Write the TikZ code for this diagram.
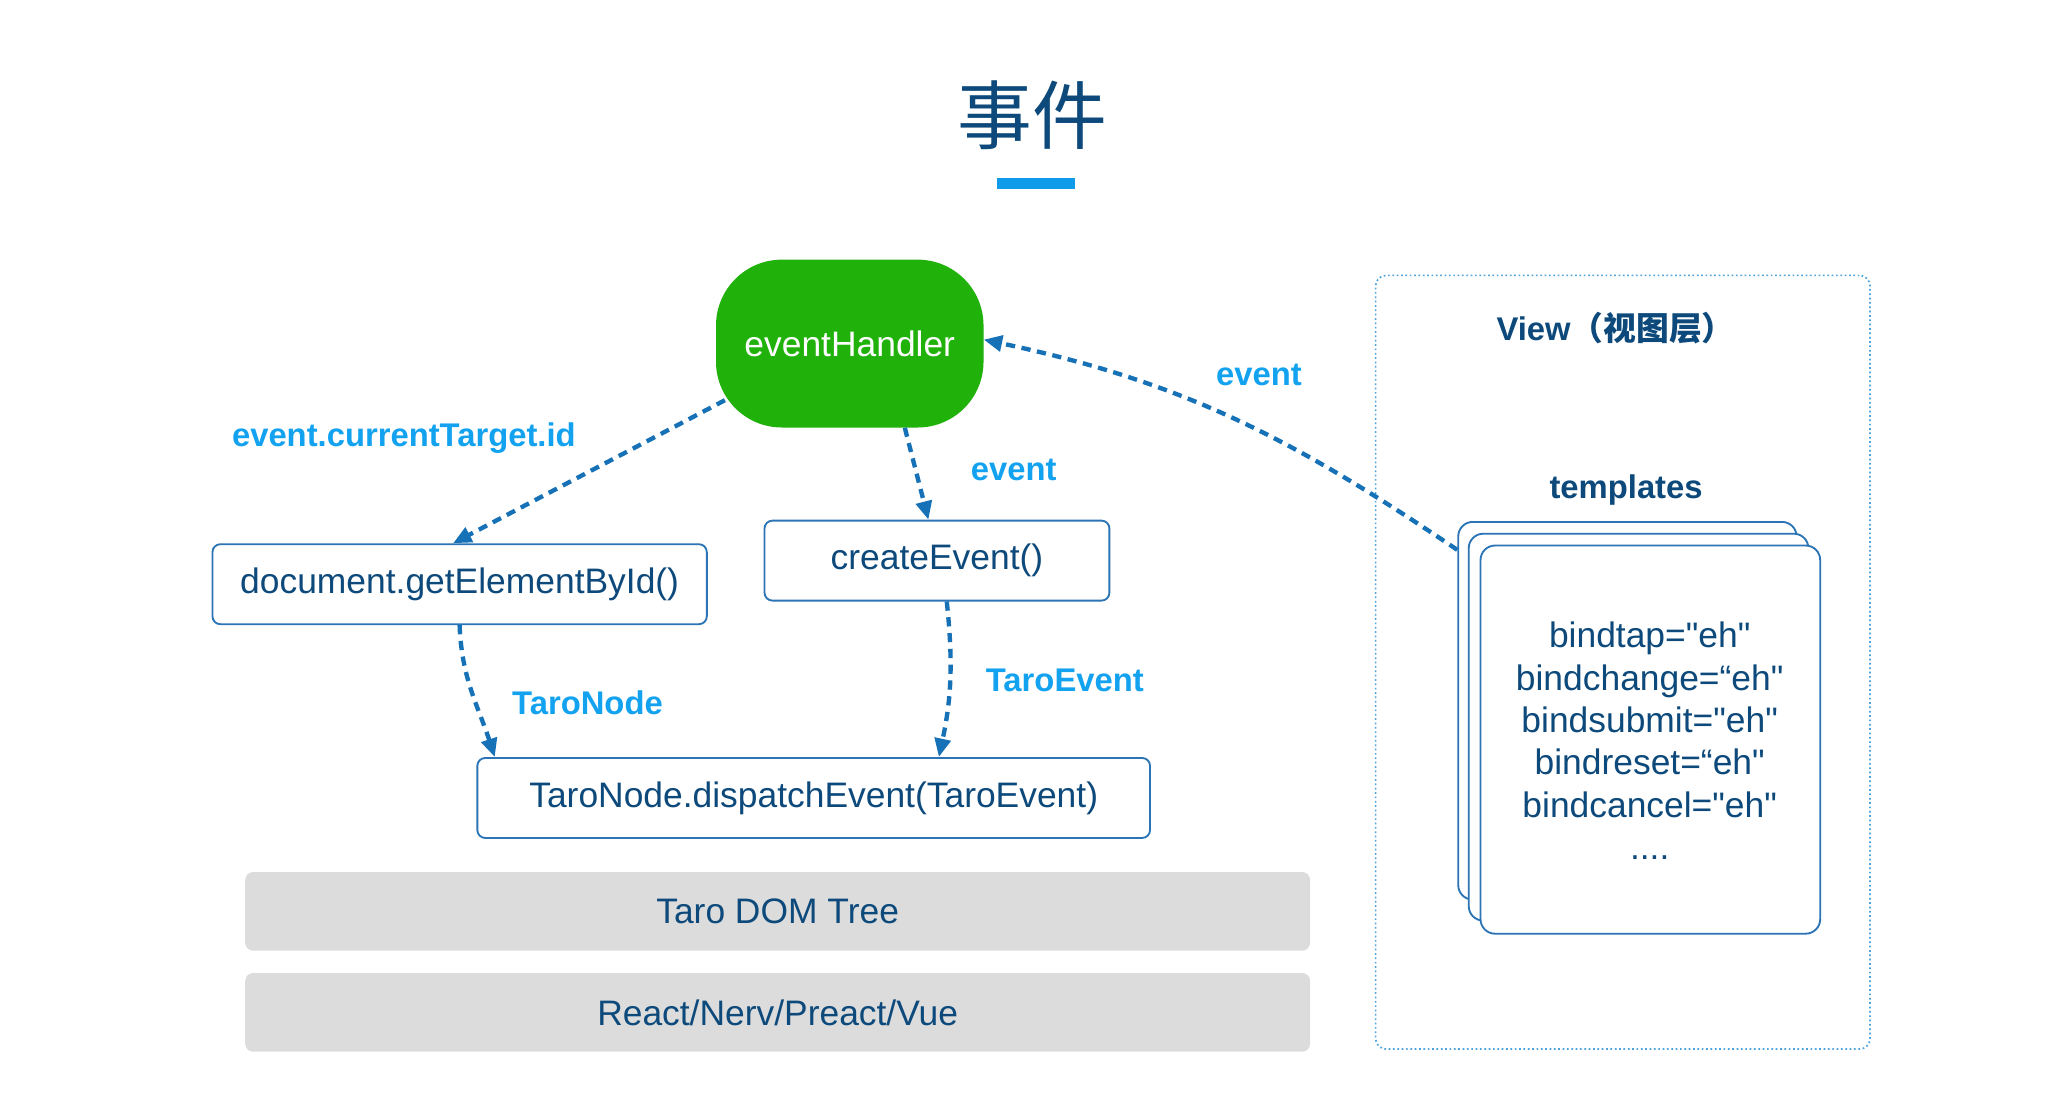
\documentclass[tikz,border=0pt]{standalone}
\usepackage{fontspec}
\setmainfont{Liberation Sans}
\newfontfamily\cjk{Noto Sans CJK SC}
\newfontfamily\qf{Liberation Sans}[Ligatures=ResetAll]
\usetikzlibrary{arrows.meta}
\newcommand{\sq}{{\qf\symbol{34}}}
\definecolor{navy}{HTML}{0D4A7B}
\definecolor{lblue}{HTML}{12A2EF}
\definecolor{arrowc}{HTML}{1771B6}
\definecolor{boxc}{HTML}{2B74B5}
\definecolor{ehgreen}{HTML}{20B10A}
\definecolor{grayf}{HTML}{DCDCDC}
\definecolor{barc}{HTML}{0D9BEA}
\definecolor{viewc}{HTML}{4CA3DE}
\tikzset{
  txt/.style={font=\fontsize{27}{32}\selectfont, text=navy},
  box/.style={txt, draw=boxc, line width=1.4pt, rounded corners=6pt, fill=white, inner sep=0pt},
  graybox/.style={txt, fill=grayf, rounded corners=6pt, inner sep=0pt, minimum width=812pt, minimum height=60pt},
  lbl/.style={font=\fontsize{25}{30}\selectfont\bfseries, text=lblue},
  card/.style={draw=boxc, line width=1.4pt, rounded corners=11pt, fill=white},
  arr/.style={draw=arrowc, line width=3.3pt, dash pattern=on 7pt off 5pt, -{Triangle[length=14pt,width=12pt]}},
}
\begin{document}
\begin{tikzpicture}[x=1pt,y=-1pt,scale=0.995,every node/.append style={transform shape}]
\useasboundingbox[fill=white] (0,0) rectangle (1567.84,849.45);
% title
\node[text=navy, font=\cjk\fontsize{57}{60}\selectfont, inner sep=0pt] (title) at (787,88) {事件};
\fill[barc] (760,135.5) rectangle (820,144);
% view layer
\node[draw=viewc, line width=1.3pt, dotted, rounded corners=8pt, minimum width=377pt, minimum height=590pt, inner sep=0pt] (view) at (1237.5,505) {};
\node[text=navy, font=\fontsize{25}{30}\selectfont\bfseries, inner sep=0pt] (viewt) at (1232,250) {View{\cjk （视图层）}};
\node[text=navy, font=\fontsize{25}{30}\selectfont\bfseries, inner sep=0pt] (tpl) at (1240,374) {templates};
\node[card, minimum width=258pt, minimum height=288pt, inner sep=0pt] (back) at (1241,542) {};
\node[card, minimum width=259pt, minimum height=295pt, inner sep=0pt] (mid) at (1249.5,554.5) {};
\node[card, minimum width=259pt, minimum height=296pt, inner sep=0pt] (front) at (1258.5,564) {};
\node[txt, align=center, font=\fontsize{27}{32.3}\selectfont, inner sep=0pt] (bind) at (1258,565) {bindtap=\sq eh\sq\\bindchange=“eh\sq\\bindsubmit=\sq eh\sq\\bindreset=“eh\sq\\bindcancel=\sq eh\sq\\....};
% main nodes
\node[fill=ehgreen, rounded corners=50pt, minimum width=204pt, minimum height=128pt, inner sep=0pt, text=white, font=\fontsize{27}{32}\selectfont] (eh) at (648,262) {eventHandler};
\node[box, minimum width=377pt, minimum height=61pt] (doc) at (350.5,445.5) {document.getElementById()};
\node[box, minimum width=263pt, minimum height=61pt] (ce) at (714.5,427.5) {createEvent()};
\node[box, minimum width=513pt, minimum height=61pt] (disp) at (620.5,608.5) {TaroNode.dispatchEvent(TaroEvent)};
\node[graybox] (dom) at (593,695) {Taro DOM Tree};
\node[graybox] (fw) at (593,772) {React/Nerv/Preact/Vue};
% connectors
\draw[arr] ([xshift=7pt,yshift=21pt]eh.south west) -- ([xshift=-5pt]doc.north);
\draw[arr] ([xshift=42pt]eh.south) -- ([xshift=-6.5pt]ce.north);
\draw[arr] (doc.south) to[out=-88,in=108] ([xshift=14pt]disp.north west);
\draw[arr] ([xshift=7.5pt]ce.south) to[out=-84,in=78] ([xshift=95.5pt]disp.north);
\draw[arr] ([yshift=-22pt]back.north west) to[out=146,in=-12] ([yshift=3pt]eh.east);
% labels
\node[lbl] (l1) at (308,334) {event.currentTarget.id};
\node[lbl] (l2) at (773,358) {event};
\node[lbl] (l3) at (960,286) {event};
\node[lbl] (l4) at (448,536) {TaroNode};
\node[lbl] (l5) at (812,519) {TaroEvent};
\end{tikzpicture}
\end{document}
